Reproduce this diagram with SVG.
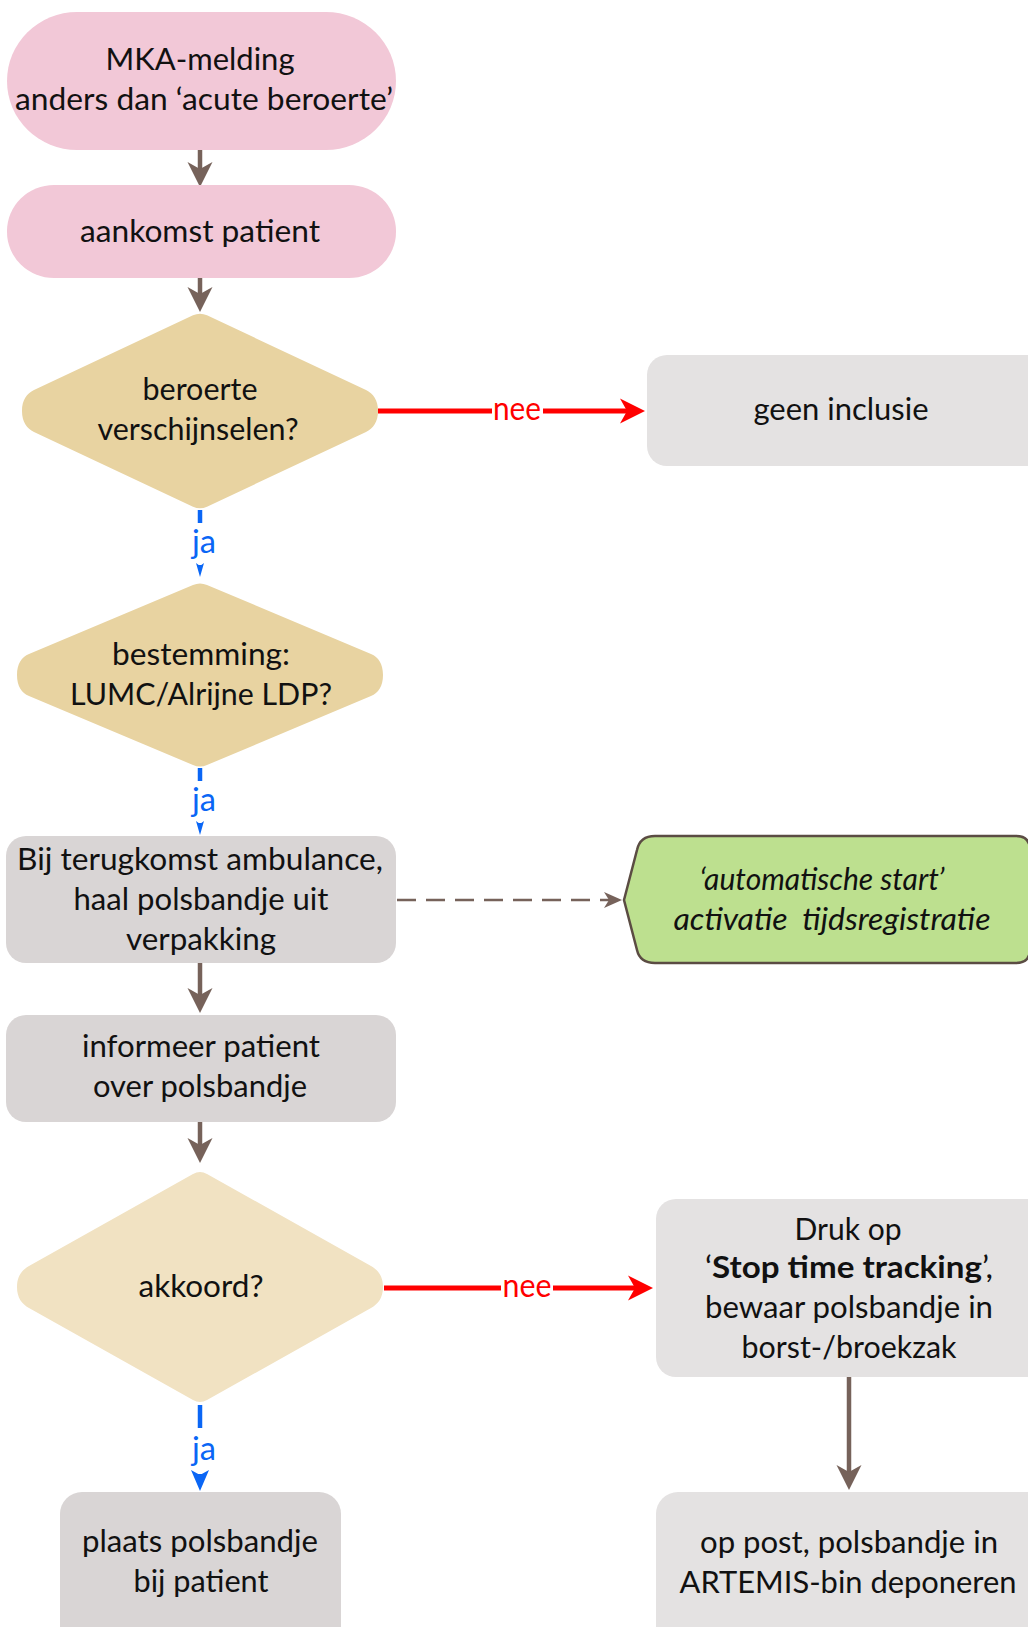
<svg xmlns="http://www.w3.org/2000/svg" width="1028" height="1627" viewBox="0 0 1028 1627">
<style>
  .t{font-family:Lato,"Liberation Sans",sans-serif;font-size:30px;fill:#111;text-anchor:middle}
  .lbl{font-family:Lato,"Liberation Sans",sans-serif;font-size:32px;text-anchor:middle}
  .red{fill:#ff0000}
  .blue{fill:#0a66f5}
  .pink{fill:#f2c8d7}
  .tan{fill:#e8d3a1}
  .tan2{fill:#f1e2c2}
  .gray{fill:#d9d5d5}
  .lgray{fill:#e4e2e2}
  .green{fill:#bde08f;stroke:#5b4c43;stroke-width:2.5}
  .cb{stroke:#76625a;stroke-width:4.5;fill:none}
  .cr{stroke:#ff0000;stroke-width:5;fill:none}
  .cbl{stroke:#0a66f5;stroke-width:4.5;fill:none}
  .cd{stroke:#76625a;stroke-width:2.5;fill:none;stroke-dasharray:19 10}
</style>
<defs>
  <marker id="hb" markerUnits="userSpaceOnUse" markerWidth="26" markerHeight="26" refX="7" refY="12.5" orient="auto" overflow="visible">
    <path d="M0,0 L25,12.5 L0,25 L7,12.5 Z" fill="#76625a"/>
  </marker>
  <marker id="hr" markerUnits="userSpaceOnUse" markerWidth="26" markerHeight="26" refX="7" refY="12.5" orient="auto" overflow="visible">
    <path d="M0,0 L25,12.5 L0,25 L7,12.5 Z" fill="#ff0000"/>
  </marker>
  <marker id="hd" markerUnits="userSpaceOnUse" markerWidth="18" markerHeight="16" refX="5" refY="8" orient="auto" overflow="visible">
    <path d="M0,0 L18,8 L0,16 L5,8 Z" fill="#76625a"/>
  </marker>
  <marker id="hbs" markerUnits="userSpaceOnUse" markerWidth="14" markerHeight="8" refX="3" refY="4" orient="auto" overflow="visible">
    <path d="M0,0 L14,4 L0,8 L3,4 Z" fill="#0a66f5"/>
  </marker>
  <marker id="hbb" markerUnits="userSpaceOnUse" markerWidth="21" markerHeight="18" refX="5" refY="9" orient="auto" overflow="visible">
    <path d="M0,0 L21,9 L0,18 L5,9 Z" fill="#0a66f5"/>
  </marker>
</defs>
<rect width="1028" height="1627" fill="#fff"/>

<g id="connectors">
  <path class="cb" d="M200,150 L200,169" marker-end="url(#hb)"/>
  <path class="cb" d="M200,278 L200,294" marker-end="url(#hb)"/>
  <path class="cr" d="M378,411 L492,411"/>
  <path class="cr" d="M543,411 L627,411" marker-end="url(#hr)"/>
  <path class="cbl" d="M200,510 L200,523"/>
  <path class="cbl" d="M200,565 L200,566" marker-end="url(#hbs)"/>
  <path class="cbl" d="M200,768 L200,781"/>
  <path class="cbl" d="M200,823 L200,824" marker-end="url(#hbs)"/>
  <path class="cd" d="M397,900 L609,900" marker-end="url(#hd)"/>
  <path class="cb" d="M200,963 L200,995" marker-end="url(#hb)"/>
  <path class="cb" d="M200,1122 L200,1145" marker-end="url(#hb)"/>
  <path class="cr" d="M384,1288 L501,1288"/>
  <path class="cr" d="M553,1288 L635,1288" marker-end="url(#hr)"/>
  <path class="cbl" d="M200,1405 L200,1428"/>
  <path class="cbl" d="M200,1474 L200,1475" marker-end="url(#hbb)"/>
  <path class="cb" d="M849,1377 L849,1472" marker-end="url(#hb)"/>
  <text class="lbl red" x="517" y="420" textLength="48" lengthAdjust="spacingAndGlyphs">nee</text>
  <text class="lbl blue" x="204" y="553" textLength="24" lengthAdjust="spacingAndGlyphs">ja</text>
  <text class="lbl blue" x="204" y="811" textLength="24" lengthAdjust="spacingAndGlyphs">ja</text>
  <text class="lbl red" x="527" y="1297" textLength="49" lengthAdjust="spacingAndGlyphs">nee</text>
  <text class="lbl blue" x="204" y="1460" textLength="24" lengthAdjust="spacingAndGlyphs">ja</text>
</g>

<g id="mka">
  <rect class="pink" x="7" y="12" width="389" height="138" rx="70" ry="69"/>
  <text class="t" x="200" y="70" textLength="189" lengthAdjust="spacingAndGlyphs">MKA-melding</text>
  <text class="t" x="204" y="110" textLength="378" lengthAdjust="spacingAndGlyphs">anders dan ‘acute beroerte’</text>
</g>

<g id="aankomst">
  <rect class="pink" x="7" y="185" width="389" height="93" rx="47" ry="46"/>
  <text class="t" x="200" y="242" textLength="240" lengthAdjust="spacingAndGlyphs">aankomst patient</text>
</g>

<g id="beroerte">
  <path class="tan" d="M207,315.3 L366,390 C373.2,393.4 378,400 378,411 C378,422 373.2,428.6 366,432 L207,506.7 Q200,510 193,506.7 L34,432 C26.8,428.6 22,422 22,411 C22,400 26.8,393.4 34,390 L193,315.3 Q200,312 207,315.3 Z"/>
  <text class="t" x="200" y="400" textLength="115" lengthAdjust="spacingAndGlyphs">beroerte</text>
  <text class="t" x="198" y="440" textLength="201" lengthAdjust="spacingAndGlyphs">verschijnselen?</text>
</g>

<g id="geen-inclusie">
  <rect class="lgray" x="647" y="355" width="420" height="111" rx="20"/>
  <text class="t" x="841" y="420" textLength="175" lengthAdjust="spacingAndGlyphs">geen inclusie</text>
</g>

<g id="bestemming">
  <path class="tan" d="M207,585 L371,654 C378.4,657.1 383,664 383,675 C383,686 378.4,692.9 371,696 L207,765 Q200,768 193,765 L29,696 C21.6,692.9 17,686 17,675 C17,664 21.6,657.1 29,654 L193,585 Q200,582 207,585 Z"/>
  <text class="t" x="201" y="665" textLength="178" lengthAdjust="spacingAndGlyphs">bestemming:</text>
  <text class="t" x="201" y="705" textLength="262" lengthAdjust="spacingAndGlyphs">LUMC/Alrijne LDP?</text>
</g>

<g id="terugkomst">
  <rect class="gray" x="6" y="836" width="390" height="127" rx="20"/>
  <text class="t" x="200" y="870" textLength="366" lengthAdjust="spacingAndGlyphs">Bij terugkomst ambulance,</text>
  <text class="t" x="201" y="910" textLength="255" lengthAdjust="spacingAndGlyphs">haal polsbandje uit</text>
  <text class="t" x="201" y="950" textLength="150" lengthAdjust="spacingAndGlyphs">verpakking</text>
</g>

<g id="automatische-start">
  <path class="green" d="M624,900 L637,850 Q640,836 655,836 L1016,836 Q1030,836 1030,850 L1030,949 Q1030,963 1016,963 L655,963 Q640,963 637,950 Z"/>
  <text class="t" x="822" y="890" font-style="italic" textLength="245" lengthAdjust="spacingAndGlyphs">‘automatische start’</text>
  <text class="t" x="832" y="930" font-style="italic" xml:space="preserve" textLength="317" lengthAdjust="spacingAndGlyphs">activatie  tijdsregistratie</text>
</g>

<g id="informeer">
  <rect class="gray" x="6" y="1015" width="390" height="107" rx="20"/>
  <text class="t" x="201" y="1057" textLength="238" lengthAdjust="spacingAndGlyphs">informeer patient</text>
  <text class="t" x="200" y="1097" textLength="214" lengthAdjust="spacingAndGlyphs">over polsbandje</text>
</g>

<g id="akkoord">
  <path class="tan2" d="M207,1174 L371,1266 C378,1270 383,1276 383,1287 C383,1298 378,1304 371,1308 L207,1400 Q200,1404 193,1400 L29,1308 C22,1304 17,1298 17,1287 C17,1276 22,1270 29,1266 L193,1174 Q200,1170 207,1174 Z"/>
  <text class="t" x="201" y="1297" textLength="125" lengthAdjust="spacingAndGlyphs">akkoord?</text>
</g>

<g id="stop-time-tracking">
  <rect class="lgray" x="656" y="1199" width="420" height="178" rx="20"/>
  <text class="t" x="848" y="1240" textLength="107" lengthAdjust="spacingAndGlyphs">Druk op</text>
  <text class="t" x="849" y="1278" textLength="288" lengthAdjust="spacingAndGlyphs">‘<tspan font-weight="bold">Stop time tracking</tspan>’,</text>
  <text class="t" x="849" y="1318" textLength="288" lengthAdjust="spacingAndGlyphs">bewaar polsbandje in</text>
  <text class="t" x="849" y="1358" textLength="215" lengthAdjust="spacingAndGlyphs">borst-/broekzak</text>
</g>

<g id="plaats">
  <rect class="gray" x="60" y="1492" width="281" height="170" rx="22"/>
  <text class="t" x="200" y="1552" textLength="236" lengthAdjust="spacingAndGlyphs">plaats polsbandje</text>
  <text class="t" x="201" y="1592" textLength="135" lengthAdjust="spacingAndGlyphs">bij patient</text>
</g>

<g id="op-post">
  <rect class="lgray" x="656" y="1492" width="420" height="170" rx="22"/>
  <text class="t" x="849" y="1553" textLength="298" lengthAdjust="spacingAndGlyphs">op post, polsbandje in</text>
  <text class="t" x="848" y="1593" textLength="337" lengthAdjust="spacingAndGlyphs">ARTEMIS-bin deponeren</text>
</g>
</svg>
